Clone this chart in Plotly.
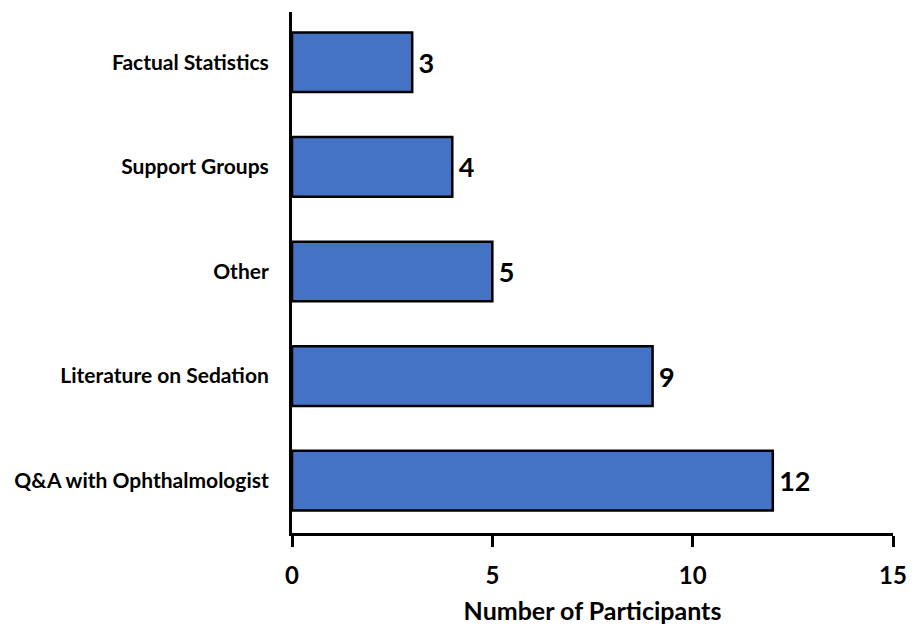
import plotly.graph_objects as go

# Information resources requested by participants
categories = [
    "Q&A with Ophthalmologist",
    "Literature on Sedation",
    "Other",
    "Support Groups",
    "Factual Statistics",
]
participants = [12, 9, 5, 4, 3]
x_ticks = [0, 5, 10, 15]

FONT = "Lato"

fig = go.Figure(
    go.Bar(
        x=participants,
        y=categories,
        orientation="h",
        width=0.57,
        marker=dict(color="#4472C4", line=dict(color="black", width=2.5)),
        text=[str(v) for v in participants],
        texttemplate="\u2009%{text}",
        textposition="outside",
        textfont=dict(family=FONT, size=27, color="black", weight="bold"),
        cliponaxis=False,
    )
)

fig.update_layout(
    width=917,
    height=625,
    margin=dict(l=292, r=24, t=12, b=92),
    plot_bgcolor="white",
    paper_bgcolor="white",
    showlegend=False,
    font=dict(family=FONT, color="black"),
)

fig.update_xaxes(
    range=[0, 15],
    tickvals=x_ticks,
    ticktext=[str(t) for t in x_ticks],
    ticks="outside",
    ticklen=11,
    tickwidth=3,
    tickcolor="black",
    showline=True,
    linecolor="black",
    linewidth=3,
    showgrid=False,
    zeroline=False,
    automargin=False,
    tickfont=dict(family=FONT, size=24, color="black", weight="bold"),
    ticklabelstandoff=8,
    title=dict(
        text="Number of Participants",
        font=dict(family=FONT, size=25, color="black", weight="bold"),
        standoff=16,
    ),
)

fig.update_yaxes(
    range=[-0.5, 4.48],
    showline=True,
    linecolor="black",
    linewidth=3,
    ticks="",
    showgrid=False,
    zeroline=False,
    automargin=False,
    tickfont=dict(family=FONT, size=21, color="black", weight="bold"),
    ticklabelstandoff=16,
)

fig.write_html("out.html")
